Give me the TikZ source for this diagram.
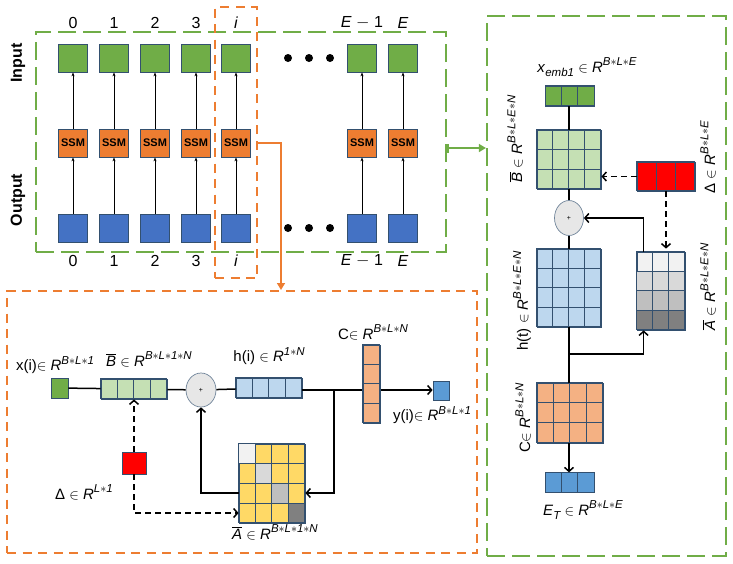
\documentclass[tikz,border=0pt]{standalone}
\usepackage{fontspec}
\setmainfont{Liberation Sans}
\usetikzlibrary{arrows,arrows.meta,shapes,positioning,calc}
\definecolor{Leaf}{HTML}{70AD47}
\definecolor{Tang}{HTML}{ED7D31}
\definecolor{Royal}{HTML}{4472C4}
\definecolor{Sky}{HTML}{5B9BD5}
\definecolor{Mint}{HTML}{C5E0B4}
\definecolor{Ice}{HTML}{BDD7EE}
\definecolor{Peach}{HTML}{F4B183}
\definecolor{Butter}{HTML}{FFD966}
\definecolor{Navy}{HTML}{33506F}
\definecolor{Fog}{HTML}{E7E7E7}
\definecolor{GrA}{HTML}{F2F2F2}
\definecolor{GrB}{HTML}{D9D9D9}
\definecolor{GrC}{HTML}{BFBFBF}
\definecolor{GrD}{HTML}{808080}

\newcommand{\Rsp}[1]{\textit{R}\raisebox{.45em}{\fontsize{11.5}{12}\selectfont\itshape #1}}
\newcommand{\Sub}[1]{\raisebox{-.25em}{\fontsize{11.5}{12}\selectfont\itshape #1}}
\newcommand{\ovl}[1]{$\overline{\mbox{\itshape #1}}$}
\newcommand{\st}{$\ast$}
%% name, centre, cols, rows, cell width, cell height, fill
\newcommand{\cellblock}[7]{%
\node[blockbox,fill=#7,minimum width={#3*#5},minimum height={#4*#6}] (#1) at (#2) {};
\foreach \c in {1,...,#3} \foreach \r in {1,...,#4}
  \draw[cellline] ($(#1.north west)+({(\c-1)*#5},{(\r-1)*#6})$) rectangle +(#5,#6);
}

\begin{document}
\begin{tikzpicture}
[x=1pt,y=-1pt,
sq/.style={draw=Navy,line width=.8pt,inner sep=0pt,minimum width=29pt,minimum height=28pt},
ssm/.style={sq,fill=Tang,font=\bfseries\fontsize{11}{12}\selectfont},
blockbox/.style={draw=Navy,line width=.8pt,inner sep=0pt},
cellline/.style={draw=Navy,line width=.7pt},
plus/.style={ellipse,draw=Navy!70,fill=Fog,line width=.7pt,inner sep=0pt,font=\fontsize{7}{8}\selectfont},
dot/.style={circle,fill=black,inner sep=0pt,minimum size=8pt},
lab/.style={font=\fontsize{15}{18}\selectfont,inner sep=1pt},
num/.style={font=\fontsize{16}{18}\selectfont,inner sep=1pt},
side/.style={font=\bfseries\fontsize{16}{18}\selectfont,rotate=90},
up/.style={-{Stealth[length=4pt,width=3pt]},line width=.7pt},
link/.style={line width=1.5pt},
arr/.style={link,-{Straight Barb[length=4pt,width=9pt]}},
darr/.style={link,dashed,dash pattern=on 6pt off 4pt,-{Straight Barb[length=4pt,width=9pt]}},
gframe/.style={draw=Leaf,line width=2.2pt,dash pattern=on 18pt off 7pt,inner sep=0pt},
oframe/.style={draw=Tang,line width=2pt,dash pattern=on 9pt off 6.5pt,inner sep=0pt}]

\useasboundingbox (0,0) rectangle (733,563);

%% sequence of SSM columns
\node[gframe,minimum width=410pt,minimum height=220pt] (seq) at (241,142) {};
\node[oframe,minimum width=42pt,minimum height=271pt] (ibox) at (236,142.5) {};
\foreach \x/\t [count=\k from 0] in {73/0,114/1,155/2,196/3,236/\textit{i},362/\textit{E} $-$ 1,403/\textit{E}}
{
\node[sq,fill=Leaf] (in\k) at (\x,58) {};
\node[ssm] (ssm\k) at (\x,143) {SSM};
\node[sq,fill=Royal] (out\k) at (\x,228) {};
\draw[up] (out\k) -- (ssm\k);
\draw[up] (ssm\k) -- (in\k);
\node[num] (top\k) at (\x,23) {\t};
\node[num] (bot\k) at (\x,261) {\t};
}
\foreach \x [count=\k] in {288,309,330}
{
\node[dot] (dt\k) at (\x,58) {};
\node[dot] (db\k) at (\x,228) {};
}
\node[side] (inlab) at (18,63) {Input};
\node[side] (outlab) at (18,200) {Output};

%% frames of the two blow-ups
\node[gframe,minimum width=239pt,minimum height=540pt] (big) at (606.5,286) {};
\node[oframe,minimum width=470pt,minimum height=262pt] (one) at (242,422) {};

\coordinate (gmid) at (0,148);
\draw[Leaf,line width=1.5pt,{Bar[width=9pt]}-{Triangle[length=7pt,width=8pt]}] (seq.east |- gmid) -- (big.west |- gmid);
\coordinate (odrop) at (281,0);
\draw[Tang,line width=1.5pt,-{Triangle[length=7pt,width=8pt]}] (ibox.east |- ssm4) -| (one.north -| odrop);

%% one SSM step
\node[blockbox,fill=Leaf,minimum width=17pt,minimum height=20pt] (xi) at (59.5,388) {};
\cellblock{Brow}{134,389}{4}{1}{16.5}{20}{Mint}
\node[plus,minimum width=30pt,minimum height=34pt] (sum) at (201,390) {+};
\cellblock{hrow}{269,388}{4}{1}{16.5}{20}{Ice}
\node[blockbox,fill=Sky,minimum width=16pt,minimum height=19pt] (yi) at (441,390.5) {};
\coordinate (br) at (334,390);
\draw[arr] (hrow.east |- br) -- (yi.west |- br);
\cellblock{Ccol}{371.5,384}{1}{4}{17}{19.5}{Peach}
\node[fill=red,draw=Navy,line width=.7pt,minimum width=24pt,minimum height=22pt,inner sep=0pt] (dlt) at (134,463) {};
\cellblock{Amat}{272,483.5}{4}{4}{16.5}{19.75}{Butter}
\foreach \k/\col in {1/GrA,2/GrB,3/GrC,4/GrD}
  \draw[cellline,fill=\col] ($(Amat.north west)+({(\k-1)*16.5},{(\k-1)*19.75})$) rectangle +(16.5,19.75);

\draw[link] (xi) -- (Brow);
\draw[link] (Brow) -- (sum);
\draw[link] (sum) -- (hrow);
\draw[arr] (br) |- ([yshift=-9.5pt]Amat.east);
\draw[arr] ([yshift=-9.5pt]Amat.west) -| (sum.south);
\draw[darr] (dlt.north) -- (Brow.south);
\draw[darr] (dlt.south) |- ([yshift=-29.5pt]Amat.west);

\node[lab] (xilab) at (55,365) {x(i)$\in$ \Rsp{B\st L\st 1}};
\node[lab] (Brlab) at (149,359) {\ovl{B} $\in$ \Rsp{B\st L\st 1\st N}};
\node[lab] (hilab) at (269,356) {h(i) $\in$ \Rsp{1\st N}};
\node[lab] (Cclab) at (373,332) {C$\in$ \Rsp{B\st L\st N}};
\node[lab] (yilab) at (432,415) {y(i)$\in$ \Rsp{B\st L\st 1}};
\node[lab] (dllab) at (84,492) {Δ $\in$ \Rsp{L\st 1}};
\node[lab] (Amlab) at (275,532) {\ovl{A} $\in$ \Rsp{B\st L\st 1\st N}};

%% whole sequence at once
\cellblock{emb}{570,96}{3}{1}{16.3}{20}{Leaf}
\cellblock{Bmat}{569,159.5}{4}{3}{16}{19.7}{Mint}
\cellblock{dvec}{666,176.5}{3}{1}{19.3}{29}{red}
\node[plus,minimum width=29pt,minimum height=35pt] (sum2) at (569,218) {+};
\cellblock{hmat}{569,288}{4}{4}{16}{19.5}{Ice}
\cellblock{Abar}{661,291}{3}{4}{16}{19.5}{GrA}
\foreach \r/\col in {2/GrB,3/GrC,4/GrD} \foreach \c in {1,2,3}
  \draw[cellline,fill=\col] ($(Abar.north west)+({(\c-1)*16},{(\r-1)*19.5})$) rectangle +(16,19.5);
\cellblock{Cmat}{570,413}{4}{3}{16.5}{20}{Peach}
\cellblock{Et}{570,482.5}{3}{1}{16.3}{19.5}{Sky}

\draw[link] (emb.south -| Bmat) -- (Bmat);
\draw[link] (Bmat) -- (sum2);
\draw[link] (sum2) -- (hmat);
\draw[link] (hmat) -- (Cmat.north -| hmat);
\coordinate (br2) at (569,354);
\draw[arr] (br2) -| ([xshift=7pt]Abar.south west);
\draw[arr] ([xshift=7pt]Abar.north west) |- (sum2.east);
\draw[darr] (dvec.west) -- (Bmat.east |- dvec.west);
\draw[darr] (dvec.south) -- ([yshift=3pt]Abar.north -| dvec.south);
\draw[arr] (Cmat.south -| hmat) -- (Et.north -| hmat);

\node[lab] (emblab) at (587,67) {\textit{x}\Sub{emb1} $\in$ \Rsp{B\st L\st E}};
\node[lab] (Etlab) at (583,510) {\textit{E}\Sub{T} $\in$ \Rsp{B\st L\st E}};
\node[lab,rotate=90] (Bmlab) at (515,139) {\ovl{B} $\in$ \Rsp{B\st L\st E\st N}};
\node[lab,rotate=90] (dvlab) at (708,157) {Δ $\in$ \Rsp{B\st L\st E}};
\node[lab,rotate=90] (hmlab) at (522,301) {h(t) $\in$ \Rsp{B\st L\st E\st N}};
\node[lab,rotate=90] (Ablab) at (708,287) {\ovl{A} $\in$ \Rsp{B\st L\st E\st N}};
\node[lab,rotate=90] (Cmlab) at (523,418) {C$\in$ \Rsp{B\st L\st N}};

\end{tikzpicture}
\end{document}
